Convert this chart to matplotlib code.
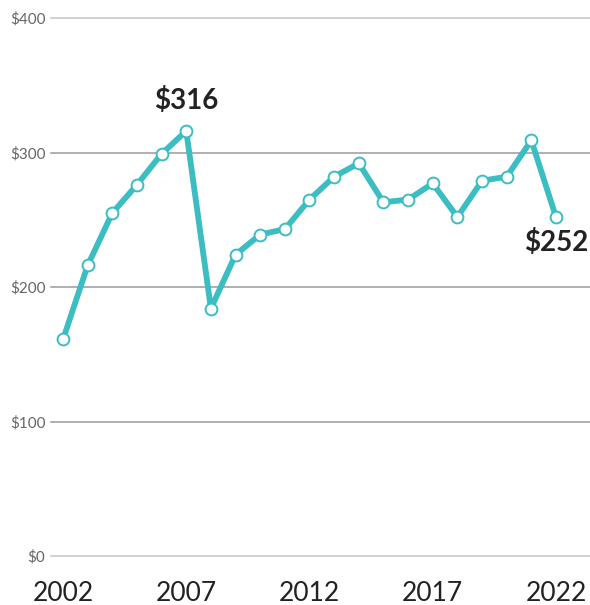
import matplotlib
matplotlib.use("Agg")
import matplotlib.pyplot as plt

plt.rcParams['font.family'] = ['Lato', 'DejaVu Sans']

years = list(range(2002, 2023))
values = [161, 216, 255, 276, 299, 316, 184, 224, 239, 243, 265,
          282, 292, 263, 265, 277, 252, 279, 282, 309, 252]
year_ticks = [2002, 2007, 2012, 2017, 2022]
y_ticks = [0, 100, 200, 300, 400]
y_labels = ["$0", "$100", "$200", "$300", "$400"]

teal = "#3bbdc1"

fig = plt.figure(figsize=(5.9, 6.05), dpi=100)
ax = fig.add_axes([51/590, 49/605, 539/590, 538/605])

for v in y_ticks:
    c = "#c4c4c4" if v in (0, 400) else "#9a9a9a"
    ax.axhline(v, color=c, lw=1.1, zorder=1, clip_on=False)

ax.plot(years, values, color=teal, lw=4.2, zorder=3, solid_joinstyle='round',
        marker='o', ms=8.5, mfc='white', mec=teal, mew=1.4)

ax.set_xlim(2001.513, 2023.38)
ax.set_ylim(0, 400)

ax.set_xticks(year_ticks)
ax.set_xticklabels([str(y) for y in year_ticks], fontsize=19, color="#222222")
ax.set_yticks(y_ticks)
ax.set_yticklabels(y_labels, fontsize=11, color="#666666")
ax.tick_params(axis='x', length=0, pad=18)
ax.tick_params(axis='y', length=0, pad=4)
for s in ax.spines.values():
    s.set_visible(False)

ax.annotate("$316", (2007, values[5]), xytext=(0, 22), textcoords='offset points',
            ha='center', va='center', fontsize=20, fontweight='bold', color="#222222")
ax.annotate("$252", (2022, values[-1]), xytext=(0, -18), textcoords='offset points',
            ha='center', va='center', fontsize=20, fontweight='bold', color="#222222")

plt.savefig("out.png", dpi=100)
